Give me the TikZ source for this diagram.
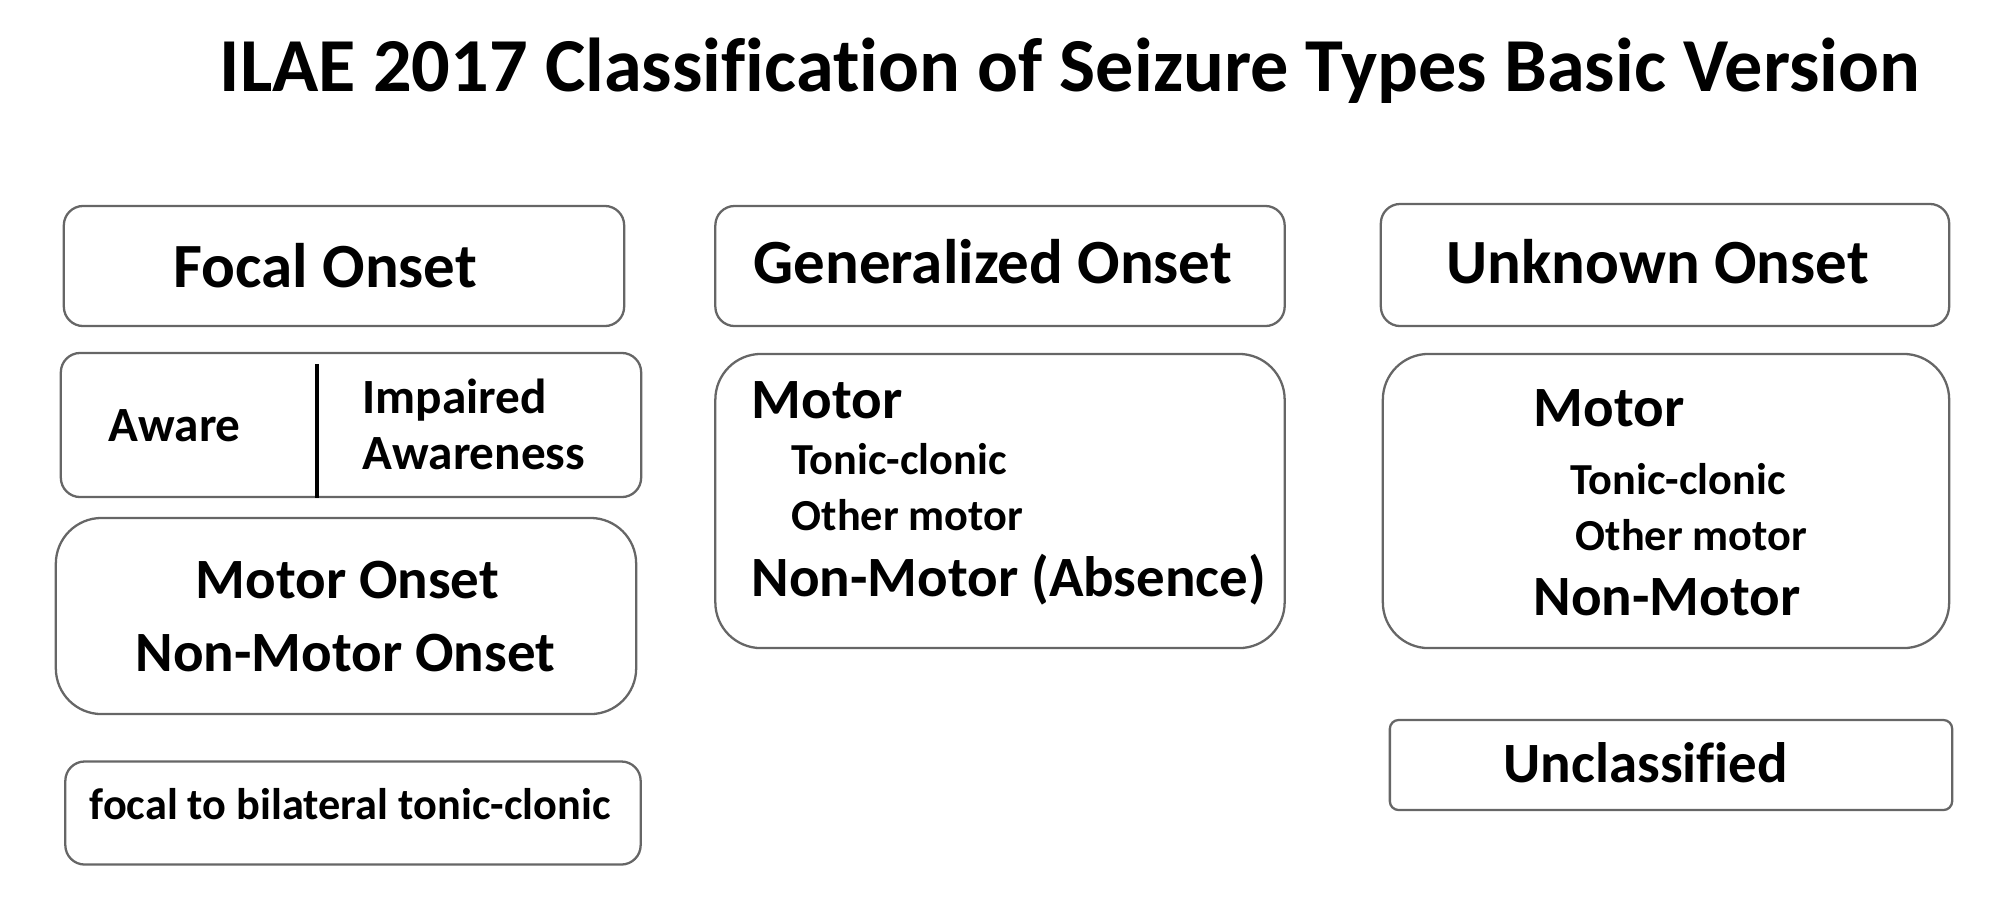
\documentclass[tikz,border=0pt]{standalone}
\usepackage{fontspec}
\setmainfont{Carlito}[Ligatures=NoCommon]
\usepackage{tikz}
\usetikzlibrary{positioning}
\definecolor{frame}{HTML}{666666}
\tikzset{
  headbox/.style={
    draw=frame, line width=0.65pt, rounded corners=5.5pt, inner sep=0pt},
  bodybox/.style={
    draw=frame, line width=0.65pt, rounded corners=13pt, inner sep=0pt},
  flatbox/.style={
    draw=frame, line width=0.65pt, rounded corners=2.5pt, inner sep=0pt},
  title/.style={anchor=base west, inner sep=0pt,
    font=\fontsize{21.7}{26}\selectfont\bfseries},
  head/.style={anchor=base west, inner sep=0pt,
    font=\fontsize{17.9}{21}\selectfont\bfseries},
  big/.style={anchor=base west, inner sep=0pt,
    font=\fontsize{16.2}{19}\selectfont\bfseries},
  mid/.style={anchor=base west, inner sep=0pt,
    font=\fontsize{14}{17}\selectfont\bfseries},
  small/.style={anchor=base west, inner sep=0pt,
    font=\fontsize{12.6}{15}\selectfont\bfseries},
  divider/.style={draw=black, line width=1.1pt},
}

\begin{document}
\begin{tikzpicture}[x=0.01cm, y=-0.01cm]
  \useasboundingbox (0,0) rectangle (1997,896);

  \node[title] (ttl) at (219,91)
    {ILAE 2017 Classification of Seizure Types Basic Version};

  % focal column
  \node[headbox, minimum width=5.6cm, minimum height=1.2cm] (focal) at (344,266) {};
  \node[head] (focaltxt) at (173,287) {Focal Onset};

  \node[headbox, minimum width=5.8cm, minimum height=1.44cm] (aware) at (351,425) {};
  \coordinate (cut) at (317,0);
  \draw[divider] ([yshift=-1.2mm]aware.north -| cut) -- (aware.south -| cut);
  \node[mid] (awaretxt) at (108,441) {Aware};
  \node[mid] (impaired) at (362,413) {Impaired};
  \node[mid] (awareness) at (362,469) {Awareness};

  \node[bodybox, minimum width=5.8cm, minimum height=1.96cm] (motoron) at (346,616) {};
  \node[big] (motorontxt) at (195,598) {Motor Onset};
  \node[big] (nonmotoron) at (135,671) {Non-Motor Onset};

  \node[headbox, minimum width=5.75cm, minimum height=1.03cm] (fbtc) at (353,813) {};
  \node[small] (fbtctxt) at (89,819) {focal to bilateral tonic-clonic};

  % generalized column
  \node[headbox, minimum width=5.69cm, minimum height=1.2cm] (gen) at (1000,266) {};
  \node[head] (gentxt) at (753,283) {Generalized Onset};

  \node[bodybox, minimum width=5.69cm, minimum height=2.94cm] (genbody) at (1000,501) {};
  \node[big] (genmotor) at (751,418) {Motor};
  \node[small] (gentc) at (791,474) {Tonic-clonic};
  \node[small] (genother) at (791,530) {Other motor};
  \node[big] (gennon) at (751,596) {Non-Motor (Absence)};

  % unknown column
  \node[headbox, minimum width=5.68cm, minimum height=1.22cm] (unk) at (1665,265) {};
  \node[head] (unktxt) at (1446,283) {Unknown Onset};

  \node[bodybox, minimum width=5.66cm, minimum height=2.94cm] (unkbody) at (1666,501) {};
  \node[big] (unkmotor) at (1533,426) {Motor};
  \node[small] (unktc) at (1570,494) {Tonic-clonic};
  \node[small] (unkother) at (1575,550) {Other motor};
  \node[big] (unknon) at (1533,615) {Non-Motor};

  \node[flatbox, minimum width=5.62cm, minimum height=0.9cm] (uncl) at (1671,765) {};
  \node[big] (uncltxt) at (1503,782) {Unclassified};

\end{tikzpicture}
\end{document}
